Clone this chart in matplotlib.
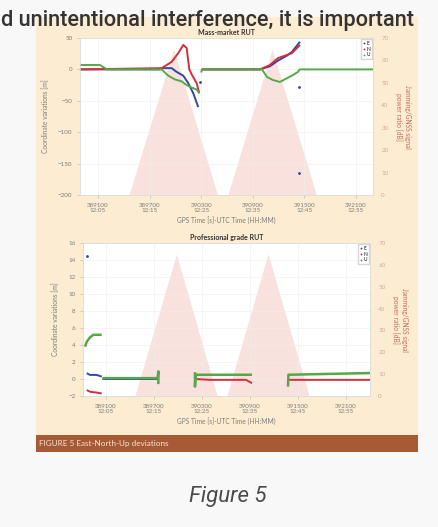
import matplotlib.pyplot as plt
from matplotlib.patches import Rectangle

nan = float("nan")

# x axis ticks (GPS seconds / UTC)
tick_seconds = [389100, 389700, 390300, 390900, 391500, 392100]
tick_utc = ["12:05", "12:15", "12:25", "12:35", "12:45", "12:55"]

# jamming / GNSS signal power ratio, two sweeps [dB]
jam_t = [389460, 389980, 390490, 390610, 391125, 391640]
jam_db = [0, 65, 0, 0, 65, 0]

# ---- mass-market RUT [m]
mm_e_t = [388891, 389821, 389856, 389957, 390015, 390092, 390150, 390208, 390266,
          nan, 390309, 390984, 391100, 391193, 391298, 391356, 391414, 391449]
mm_e = [0, 0, 2, 2, -4, -10, -22, -38, -60,
        nan, 0, 0, 5, 14, 22, 28, 38, 44]
mm_n_t = [388891, 389841, 389957, 390034, 390092, 390131, 390162, 390190, 390248, 390278,
          nan, 390309, 390984, 391100, 391193, 391298, 391356, 391414, 391449]
mm_n = [0, 2, 12, 26, 39, 34, 0, -8, -22, -38,
        nan, 0, 0, 7, 18, 23, 26, 34, 39]
mm_u_t = [388891, 389123, 389205, 389841, 389917, 389995, 390073, 390131, 390190, 390248, 390278,
          nan, 390300, 390309, 391007, 391065, 391135, 391216, 391298, 391367, 391426, 391445, 392298]
mm_u = [7, 7, 0, 0, -10, -16, -19, -25, -29, -32, -38,
        nan, -5, 0, 0, -12, -17, -20, -14, -9, -4, 0, 0]
mm_dots_t = [390290, 391437, 391437]
mm_dots = [-20, -28, -165]

# ---- professional grade RUT [m]
pg_e_t = [388859, 388900, 388984, 389046, nan, 389055, 389750]
pg_e = [0.68, 0.48, 0.48, 0.28, nan, 0.0, 0.0]
pg_n_t = [388859, 388900, 388984, 389046, nan, 390212, 390400, 390850, 390925, nan, 391375, 392400]
pg_n = [-1.3, -1.5, -1.6, -1.7, nan, 0.0, -0.1, -0.1, -0.5, nan, -0.1, -0.1]
pg_u_t = [388838, 388859, 388900, 388941, 389046, nan, 389055, 389745, 389754, 389754,
          nan, 390212, 390212, 390220, 390925, nan, 391375, 391380, 392400]
pg_u = [3.8, 4.4, 4.9, 5.2, 5.2, nan, 0.1, 0.1, 0.9, -0.6,
        nan, 0.8, -0.9, 0.5, 0.5, nan, -0.9, 0.5, 0.7]
pg_dots_t = [388859]
pg_dots = [14.5]

C_E = "#33479e"
C_N = "#d22f3c"
C_U = "#56a847"
PINK = "#f9e2dd"
GREY = "#7d7d7d"
RED_TXT = "#c9695c"

plt.rcParams["font.family"] = ["Lato", "DejaVu Sans"]

fig = plt.figure(figsize=(4.39, 5.27), dpi=100, facecolor="#f8f8f8")

# beige panel and caption bar
fig.patches.append(Rectangle((36 / 439, 1 - 452 / 527), 382 / 439, 435 / 527,
                             transform=fig.transFigure, facecolor="#fcecd1",
                             edgecolor="none", zorder=-2))
fig.patches.append(Rectangle((36 / 439, 1 - 452 / 527), 382 / 439, 17 / 527,
                             transform=fig.transFigure, facecolor="#a65b36",
                             edgecolor="none", zorder=-1))


def panel(rect, xlim, ylim, yticks, title, series, dots):
    ax = fig.add_axes(rect)
    ax2 = ax.twinx()
    ax.set_zorder(ax2.get_zorder() + 1)
    ax.patch.set_visible(False)
    ax2.patch.set_visible(True)
    ax2.set_facecolor("white")

    ax2.fill_between(jam_t, jam_db, 0, color=PINK, lw=0)
    ax2.set_ylim(0, 70)
    ax2.set_yticks(range(0, 71, 10))
    ax2.tick_params(axis="y", labelsize=4.5, colors="#d8a89e", length=0, pad=6)
    ax2.set_ylabel("Jamming/GNSS signal\npower ratio [dB]", rotation=270,
                   fontsize=4.8, color=RED_TXT, labelpad=16)

    for t, v, c, lw in series:
        ax.plot(t, v, color=c, lw=lw, solid_capstyle="butt")
    ax.plot(dots[0], dots[1], ls="none", marker=".", ms=2, color=C_E)
    # legend handles
    for lab, c in (("E", C_E), ("N", C_N), ("U", C_U)):
        ax.plot([], [], ls="none", marker="+", ms=2, mew=0.6, color=c, label=lab)
    ax.legend(loc="upper right", fontsize=3.5, handlelength=0.4, handletextpad=0.3,
              borderpad=0.3, labelspacing=0.15, frameon=True, fancybox=False,
              edgecolor="#cccccc", borderaxespad=0.3)

    ax.set_xlim(*xlim)
    ax.set_ylim(*ylim)
    ax.set_yticks(yticks)
    ax.set_xticks(tick_seconds)
    ax.set_xticklabels([f"{s}\n{u}" for s, u in zip(tick_seconds, tick_utc)],
                       linespacing=1.1)
    ax.tick_params(labelsize=4.5, colors="#bbbbbb", labelcolor=GREY, length=2, width=0.5)
    ax.grid(color="#eeeeee", lw=0.4)
    ax.set_axisbelow(True)
    for a in (ax, ax2):
        for s in a.spines.values():
            s.set_color("#dddddd")
            s.set_linewidth(0.5)
    ax.set_title(title, fontsize=5, fontweight="bold", color="#333333", pad=2)
    ax.set_xlabel("GPS Time [s]-UTC Time (HH:MM)", fontsize=4.8, color=GREY, labelpad=2)
    ax.set_ylabel("Coordinate variations [m]", fontsize=4.8, color=GREY, labelpad=6)
    return ax


panel([80 / 439, 1 - 195 / 527, 293 / 439, 157 / 527], (388891, 392298),
      (-200, 50), range(-200, 51, 50), "Mass-market RUT",
      [(mm_e_t, mm_e, C_E, 1.4), (mm_n_t, mm_n, C_N, 1.4), (mm_u_t, mm_u, C_U, 1.4)],
      (mm_dots_t, mm_dots))

panel([83 / 439, 1 - 396 / 527, 287 / 439, 153 / 527], (388812, 392400),
      (-2, 16), range(-2, 17, 2), "Professional grade RUT",
      [(pg_e_t, pg_e, C_E, 1.4), (pg_n_t, pg_n, C_N, 1.4), (pg_u_t, pg_u, C_U, 1.8)],
      (pg_dots_t, pg_dots))

# caption bar text
fig.text(39 / 439, 1 - 443.5 / 527, "FIGURE 5 East-North-Up deviations", fontsize=5.9,
         color="#f4e2d0", va="center", ha="left")

# surrounding page text
fig.text(1 / 439, 1 - 26 / 527, "d unintentional interference, it is important",
         fontsize=15.7, family=["Roboto", "DejaVu Sans"], fontweight="medium",
         color="#333333", va="baseline", ha="left", zorder=5)
fig.text(228 / 439, 1 - 502 / 527, "Figure 5", fontsize=16, style="italic",
         family=["Roboto", "DejaVu Sans"], color="#4a4a4a", va="baseline", ha="center")

fig.savefig("out.png", dpi=100, facecolor=fig.get_facecolor())
